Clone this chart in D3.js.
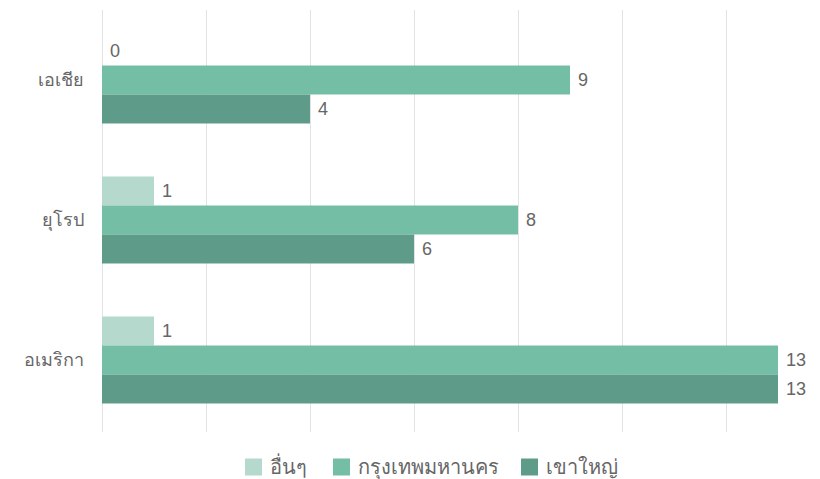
<!DOCTYPE html>
<html>
<head>
<meta charset="utf-8">
<script src="https://cdn.jsdelivr.net/npm/d3@7"></script>
<style>
  html, body { margin: 0; padding: 0; background: #fff; }
  svg { display: block; font-family: "Liberation Sans", Arial, sans-serif; }
</style>
</head>
<body>
<svg id="chart" width="820" height="479"></svg>
<script>
// Regions and origin groups
const categories = ["เอเชีย", "ยุโรป", "อเมริกา"];
const seriesNames = ["อื่นๆ", "กรุงเทพมหานคร", "เขาใหญ่"];
const seriesColors = ["#b5d9cc", "#75bea6", "#5e9b88"];
const valuesOther = [0, 1, 1];
const valuesBangkok = [9, 8, 13];
const valuesKhaoYai = [4, 6, 13];
const xTicks = [0, 2, 4, 6, 8, 10, 12];

const seriesValues = [valuesOther, valuesBangkok, valuesKhaoYai];

const svg = d3.select("#chart");
const margin = { left: 102, top: 10 };
const textColor = "#666666";

const x = d3.scaleLinear().domain([0, 14]).range([margin.left, margin.left + 14 * 52]);
const y0 = d3.scaleBand().domain(categories)
  .range([margin.top, 430]).paddingInner(0.3786).paddingOuter(0.1893);
const y1 = d3.scaleBand().domain(seriesNames).range([0, y0.bandwidth()]);

// vertical gridlines
const grid = d3.axisBottom(x).tickValues(xTicks).tickSize(-(432 - margin.top)).tickFormat("");
svg.append("g")
  .attr("transform", `translate(0,432)`)
  .call(grid)
  .call(g => g.select(".domain").remove())
  .call(g => g.selectAll(".tick line").attr("stroke", "#e3e3e3").attr("stroke-width", 1));

// category labels
const yAxis = d3.axisLeft(y0).tickSize(0).tickPadding(18);
svg.append("g")
  .attr("transform", `translate(${margin.left},0)`)
  .call(yAxis)
  .call(g => g.select(".domain").remove())
  .call(g => g.selectAll(".tick text")
    .attr("font-family", null)
    .attr("fill", textColor).attr("font-size", 18));

const rows = [];
categories.forEach((c, i) => {
  seriesNames.forEach((s, j) => {
    rows.push({ cat: c, series: s, idx: j, value: seriesValues[j][i] });
  });
});

const bars = svg.append("g");
bars.selectAll("rect").data(rows).join("rect")
  .attr("x", x(0))
  .attr("y", d => y0(d.cat) + y1(d.series))
  .attr("width", d => x(d.value) - x(0))
  .attr("height", y1.bandwidth())
  .attr("fill", d => seriesColors[d.idx]);

// value labels
svg.append("g").selectAll("text").data(rows).join("text")
  .attr("x", d => x(d.value) + 8)
  .attr("y", d => y0(d.cat) + y1(d.series) + y1.bandwidth() / 2)
  .attr("dy", "0.35em")
  .attr("fill", textColor)
  .attr("font-size", 18)
  .text(d => d.value);

// legend
const legendX = [245, 333, 521];
const legend = svg.append("g").attr("transform", "translate(0,467)");
const items = legend.selectAll("g").data(seriesNames).join("g")
  .attr("transform", (d, i) => `translate(${legendX[i]},0)`);
items.append("rect")
  .attr("x", 0).attr("y", -8.5).attr("width", 17).attr("height", 17)
  .attr("fill", (d, i) => seriesColors[i]);
items.append("text")
  .attr("x", 25).attr("y", 0).attr("dy", "0.35em")
  .attr("fill", textColor).attr("font-size", 20)
  .text(d => d);
</script>
</body>
</html>
